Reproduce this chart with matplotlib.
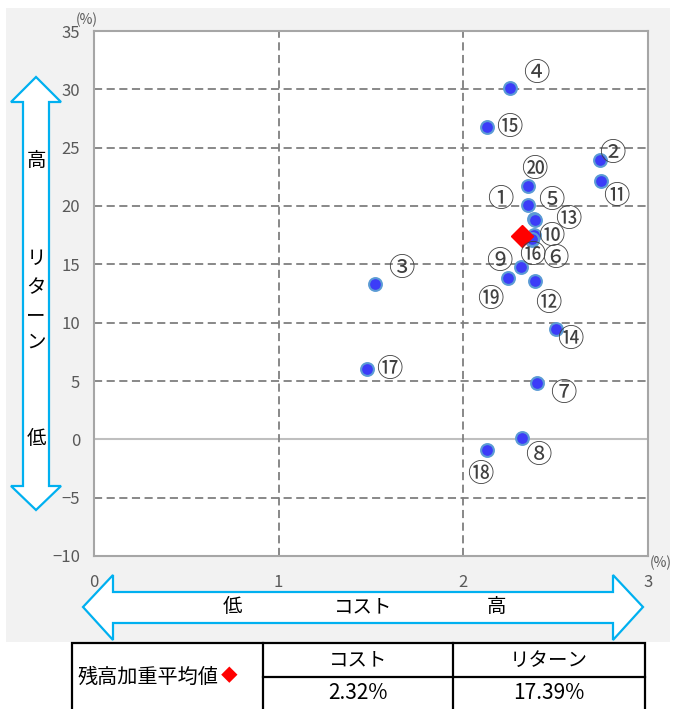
import matplotlib.pyplot as plt
from matplotlib.patches import Polygon, Rectangle

plt.rcParams['font.family'] = ['Noto Sans CJK JP', 'DejaVu Sans']

# fund data: cost (%) and return (%)
labels = ['①', '②', '③', '④', '⑤', '⑥', '⑦', '⑧', '⑨', '⑩',
          '⑪', '⑫', '⑬', '⑭', '⑮', '⑯', '⑰', '⑱', '⑲', '⑳']
cost = [2.35, 2.74, 1.52, 2.25, 2.38, 2.37, 2.40, 2.32, 2.31, 2.38,
        2.745, 2.39, 2.39, 2.50, 2.13, 2.37, 1.48, 2.13, 2.24, 2.35]
ret = [20.1, 23.9, 13.3, 30.1, 18.9, 17.1, 4.8, 0.1, 14.8, 17.5,
       22.1, 13.6, 18.8, 9.5, 26.8, 17.2, 6.0, -0.9, 13.8, 21.7]
# label offsets from point (pixels, x right / y up)
label_dx = [-28, 12, 27, 27, 18, 24, 26, 16, -21, 18, 15, 13, 33, 15, 22, 1, 22, -7, -17, 6]
label_dy = [5, 7, 16, 15, 18, -19, -10, -17, 5, -1, -15, -23, 0, -11, -1, -17, 0, -25, -21, 17]

avg_cost = 2.32
avg_ret = 17.39

x_ticks = [0, 1, 2, 3]
y_ticks = [35, 30, 25, 20, 15, 10, 5, 0, -5, -10]

W, H = 674, 709
fig = plt.figure(figsize=(W / 100, H / 100), dpi=100)
fig.patch.set_facecolor('white')
fig.patches.append(Rectangle((6 / W, 1 - 642 / H), 664 / W, 634 / H,
                             transform=fig.transFigure, facecolor='#f2f2f2',
                             edgecolor='none', zorder=-5))

ax = fig.add_axes([94 / W, 1 - 556 / H, 554 / W, 525 / H])
ax.set_facecolor('white')
ax.set_xlim(0, 3)
ax.set_ylim(-10, 35)
ax.set_xticks(x_ticks)
ax.set_yticks(y_ticks)
ax.tick_params(length=0, labelsize=12, colors='#595959')
ax.tick_params(axis='y', pad=10)
ax.tick_params(axis='x', pad=13)
for s in ax.spines.values():
    s.set_color('#a6a6a6')
    s.set_linewidth(1.5)

for yv in y_ticks:
    if yv in (35, -10):
        continue
    if yv == 0:
        ax.axhline(0, color='#bfbfbf', lw=1.5, zorder=1)
    else:
        ax.axhline(yv, color='#7f7f7f', lw=1.3, ls=(0, (4.5, 2.5)), zorder=1)
for xv in [1, 2]:
    ax.axvline(xv, color='#7f7f7f', lw=1.3, ls=(0, (4.5, 2.5)), zorder=1)

ax.scatter(cost, ret, s=85, color='#3c3cf8', edgecolors='#5b9bd5', linewidths=1.5, zorder=3)
ax.plot([avg_cost], [avg_ret], marker='D', ms=11, color='#ff0000', mec='#ff0000', zorder=4)

for lab, x, y, dx, dy in zip(labels, cost, ret, label_dx, label_dy):
    ax.annotate(lab, (x, y), xytext=(dx * 0.72, dy * 0.72), textcoords='offset points',
                ha='center', va='center', fontsize=19, color='#404040', zorder=5)

# overlay in pixel coordinates for arrows, units and table
ov = fig.add_axes([0, 0, 1, 1], zorder=-1)
ov.set_xlim(0, W)
ov.set_ylim(H, 0)
ov.axis('off')
ov.patch.set_alpha(0)

arrow_c = '#00b0f0'
v_arrow = [(36, 77), (61, 102), (49, 102), (49, 486), (61, 486), (36, 510),
           (11, 486), (23, 486), (23, 102), (11, 102)]
ov.add_patch(Polygon(v_arrow, closed=True, facecolor='white', edgecolor=arrow_c, lw=1.6))
h_arrow = [(83, 607), (113, 575), (113, 592), (613, 592), (613, 575), (643, 607),
           (613, 640), (613, 623), (113, 623), (113, 640)]
ov.add_patch(Polygon(h_arrow, closed=True, facecolor='white', edgecolor=arrow_c, lw=1.6))

ov.text(36, 160, '高', ha='center', va='center', fontsize=14)
for ch, yy in zip('リターン', [258, 288, 316, 342]):
    ov.text(36, yy, ch, ha='center', va='center', fontsize=14)
ov.text(36, 438, '低', ha='center', va='center', fontsize=14)
ov.text(232, 607, '低', ha='center', va='center', fontsize=14)
ov.text(363, 607, 'コスト', ha='center', va='center', fontsize=14)
ov.text(497, 607, '高', ha='center', va='center', fontsize=14)

ov.text(76, 20, '(%)', ha='left', va='center', fontsize=10, color='#595959')
ov.text(650, 563, '(%)', ha='left', va='center', fontsize=10, color='#595959')

# summary table
tbl_lw = 1.6
ov.add_patch(Rectangle((72, 643), 573, 70, facecolor='white', edgecolor='black', lw=tbl_lw))
ov.plot([263, 263], [643, 713], color='black', lw=tbl_lw)
ov.plot([453, 453], [643, 713], color='black', lw=tbl_lw)
ov.plot([263, 645], [677, 677], color='black', lw=tbl_lw)
ov.text(78, 677, '残高加重平均値', ha='left', va='center', fontsize=14.5)
ov.text(221, 677, '◆', ha='left', va='center', fontsize=12, color='#ff0000')
ov.text(358, 660, 'コスト', ha='center', va='center', fontsize=14)
ov.text(549, 660, 'リターン', ha='center', va='center', fontsize=14)
ov.text(358, 693, f'{avg_cost:.2f}%', ha='center', va='center', fontsize=15)
ov.text(549, 693, f'{avg_ret:.2f}%', ha='center', va='center', fontsize=15)

fig.savefig('out.png', dpi=100)
